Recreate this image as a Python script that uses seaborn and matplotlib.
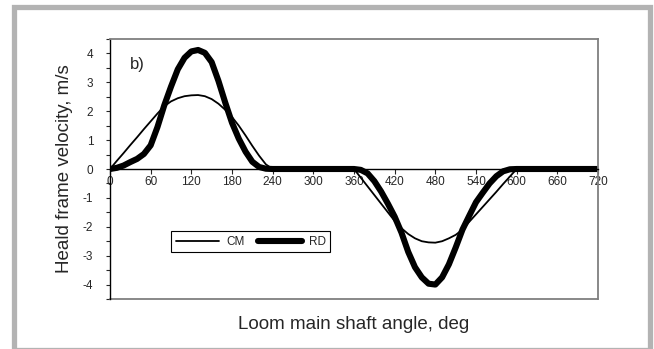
import numpy as np
import pandas as pd
import matplotlib
matplotlib.use("Agg")
import matplotlib.pyplot as plt
from matplotlib.lines import Line2D
from matplotlib.patches import Rectangle
from matplotlib.ticker import MultipleLocator
import seaborn as sns

# ---- data ----
angle = list(range(0, 721, 10))
cm_values = ([0, 0.28, 0.55, 0.83, 1.1, 1.38, 1.65, 1.92, 2.17, 2.34, 2.45, 2.52, 2.55,
              2.56, 2.52, 2.42, 2.26, 2.05, 1.8, 1.5, 1.16, 0.8, 0.46, 0.16, 0]
             + [0] * 11
             + [0, -0.3, -0.6, -0.9, -1.2, -1.5, -1.8, -2.05, -2.25, -2.4, -2.5, -2.54, -2.55,
                -2.5, -2.4, -2.28, -2.1, -1.83, -1.57, -1.31, -1.05, -0.79, -0.52, -0.26, 0]
             + [0] * 12)
rd_values = ([0, 0.04, 0.12, 0.24, 0.35, 0.52, 0.82, 1.45, 2.2, 2.85, 3.45, 3.85, 4.07,
              4.12, 4.02, 3.7, 3.05, 2.3, 1.6, 1.05, 0.6, 0.25, 0.07, 0.01, 0]
             + [0] * 11
             + [0, -0.03, -0.15, -0.42, -0.78, -1.2, -1.65, -2.2, -2.87, -3.4, -3.75, -3.97, -4.0,
                -3.75, -3.3, -2.72, -2.1, -1.62, -1.15, -0.82, -0.5, -0.25, -0.08, -0.01, 0]
             + [0] * 12)
series_names = ["CM", "RD"]
x_ticks = list(range(0, 721, 60))
y_ticks = [-4, -3, -2, -1, 0, 1, 2, 3, 4]

df = pd.concat([
    pd.DataFrame({"angle": angle, "velocity": cm_values, "series": "CM"}),
    pd.DataFrame({"angle": angle, "velocity": rd_values, "series": "RD"}),
])

sns.set_style("white")
plt.rcParams["font.family"] = ["Liberation Sans", "DejaVu Sans"]

fig = plt.figure(figsize=(6.54, 3.49), dpi=100)
ax = fig.add_axes([110 / 654, 1 - 299 / 349, 488 / 654, 260 / 349])

widths = {"CM": 1.3, "RD": 4.4}
sns.lineplot(data=df, x="angle", y="velocity", hue="series", size="series",
             sizes=widths, palette={"CM": "black", "RD": "black"},
             legend=False, ax=ax, clip_on=True, solid_capstyle="butt",
             solid_joinstyle="round")

ax.set_xlim(0, 720)
ax.set_ylim(-4.5, 4.5)

# x axis at zero
ax.spines["bottom"].set_position(("data", 0))
ax.spines["bottom"].set_color("black")
ax.spines["bottom"].set_linewidth(1.0)
ax.spines["left"].set_color("black")
ax.spines["left"].set_linewidth(1.0)
for s in ["top", "right"]:
    ax.spines[s].set_color("#7f7f7f")
    ax.spines[s].set_linewidth(1.3)
ax.add_line(Line2D([0, 1], [0, 0], transform=ax.transAxes, color="#7f7f7f",
                   linewidth=1.3, clip_on=False))

ax.set_xticks(x_ticks)
ax.set_xticklabels([str(v) for v in x_ticks])
ax.set_yticks(y_ticks)
ax.set_yticklabels([str(v) for v in y_ticks])
ax.yaxis.set_minor_locator(MultipleLocator(0.5))
ax.tick_params(axis="x", which="both", direction="out", length=3.5, width=0.8,
               pad=1.5, labelsize=8.5, bottom=True)
ax.tick_params(axis="y", which="major", direction="out", length=3, width=0.8,
               pad=9, labelsize=8.5, left=True)
ax.tick_params(axis="y", which="minor", direction="out", length=3, width=0.8, left=True)

ax.set_xlabel("Loom main shaft angle, deg", fontsize=13.5)
ax.set_ylabel("Heald frame velocity, m/s", fontsize=13.5)
ax.xaxis.set_label_coords(0.5, -0.065)
ax.yaxis.set_label_coords(-0.076, 0.5)

ax.text(30, 3.6, "b)", fontsize=12, ha="left", va="center")

handles = [Line2D([], [], color="black", linewidth=widths[n]) for n in series_names]
leg = ax.legend(handles, series_names, loc="upper left",
                bbox_to_anchor=((171 - 110) / 488, (299 - 231) / 260),
                borderaxespad=0, ncol=2, fontsize=8.5, handlelength=3.7,
                handletextpad=0.6, columnspacing=1.1, frameon=True,
                fancybox=False, framealpha=1, borderpad=0.4)
leg.get_frame().set_edgecolor("black")
leg.get_frame().set_linewidth(0.8)

# outer gray frame
fig.patches.append(Rectangle((13.5 / 654, 1 - 349.5 / 349), (650 - 13.5) / 654,
                             (349.5 - 7) / 349, transform=fig.transFigure,
                             fill=False, edgecolor="#b3b3b3", linewidth=3.8))

fig.savefig("out.png", dpi=100)
